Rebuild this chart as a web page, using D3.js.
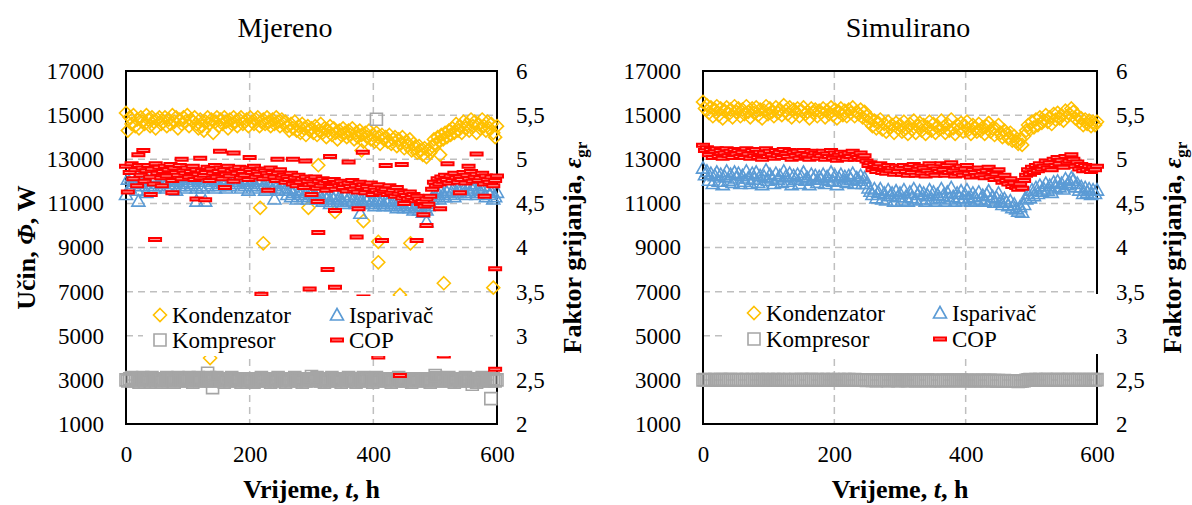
<!DOCTYPE html>
<html>
<head>
<meta charset="utf-8">
<script src="https://cdn.jsdelivr.net/npm/d3@7"></script>
<style>
  body { margin: 0; background: #fff; }
  svg text { font-family: "Liberation Serif", "Times New Roman", serif; }
</style>
</head>
<body>
<svg id="chart" width="1192" height="505"></svg>
<script>
// ---- data ----
const hours = [0,3,6,9,12,15,18,21,24,27,30,33,36,39,42,45,48,51,54,57,
  60,63,66,69,72,75,78,81,84,87,90,93,96,99,102,105,108,111,114,117,
  120,123,126,129,132,135,138,141,144,147,150,153,156,159,162,165,168,171,174,177,
  180,183,186,189,192,195,198,201,204,207,210,213,216,219,222,225,228,231,234,237,
  240,243,246,249,252,255,258,261,264,267,270,273,276,279,282,285,288,291,294,297,
  300,303,306,309,312,315,318,321,324,327,330,333,336,339,342,345,348,351,354,357,
  360,363,366,369,372,375,378,381,384,387,390,393,396,399,402,405,408,411,414,417,
  420,423,426,429,432,435,438,441,444,447,450,453,456,459,462,465,468,471,474,477,
  480,483,486,489,492,495,498,501,504,507,510,513,516,519,522,525,528,531,534,537,
  540,543,546,549,552,555,558,561,564,567,570,573,576,579,582,585,588,591,594,597,
  600];

// Mjereno (measured)
const mjKondenzator = [15100,14300,14900,14600,15000,14500,14800,14400,14900,14700,14600,15000,14800,14500,14900,14700,14400,14800,14900,14600,
  14700,14900,14500,14800,14600,15000,14700,14900,14400,14800,14600,14900,14700,15000,14500,14800,14700,14900,14600,14400,
  14800,14500,14300,14700,14900,14600,14800,14200,14700,14900,14500,14800,14600,14900,14700,14400,14800,14600,14900,14700,
  14500,14800,14900,14600,14700,14800,14500,14900,14700,14600,14800,14900,14500,14700,14800,14600,14900,14700,14500,14800,
  14600,14900,14700,14500,14800,14600,14700,14500,14300,14600,14400,14700,14300,14500,14200,14600,14400,14100,14500,14300,
  14400,14200,14500,14100,14300,14600,14200,14400,14000,14300,14500,14100,14400,14200,13900,14300,14100,14400,14200,14000,
  14300,14100,14400,13900,14200,14000,14300,14100,13800,14200,14000,14300,13900,14100,13800,14200,14000,13700,14100,13900,
  14000,13800,14100,13700,13900,14000,13600,13900,13700,14000,13500,13800,13600,13900,13400,13700,13500,13300,13600,13400,
  13200,13500,13100,13400,13300,13600,13900,13700,14000,13800,14100,13900,14200,14000,14300,14100,14400,14200,14600,14300,
  14500,14200,14700,14400,14600,14300,14800,14500,14700,14200,14600,14400,14800,14500,14300,14700,14400,14600,14200,14000,
  14500];
const mjKondenzatorExtra = [[136,3990],[217,10800],[222,9190],[295,10800],[311,12730],[338,10620],[384,10200],[408,9260],[408,8330],[443,6850],[460,9190],[514,7380],[594,7180],[381,13400],[508,13200]];

const mjIsparivac = [11400,12100,11700,12200,11900,12000,11600,12100,11800,12200,11900,11500,12000,11800,12100,11700,12200,11900,11800,12000,
  11900,12000,11700,12100,11800,12200,11900,11600,12000,11800,12100,11900,11700,12000,12200,11800,11900,12100,11700,12000,
  11800,11700,12000,12200,11800,12000,11900,12100,11700,12000,11800,12100,11900,12000,11700,12100,11800,12000,12200,11900,
  11900,12000,11700,12100,11800,12000,11600,11900,12100,11800,11700,12000,11900,12100,11800,11600,12000,11900,11700,12000,
  11800,11900,11600,12000,11700,11900,11600,11400,11700,11300,11500,11600,11200,11500,11400,11600,11300,11500,11200,11400,
  11500,11300,11400,11200,11500,11300,11100,11400,11200,11300,11000,11300,11200,11400,11100,11300,11200,11000,11300,11100,
  11200,11400,11100,11300,11000,11200,11300,11100,11000,11200,11100,11300,11000,11200,10900,11100,11200,11000,11100,10900,
  11100,11000,11200,10900,11100,11000,10800,11100,10900,11000,10800,11000,10900,10800,11000,10700,10900,10800,10700,10900,
  10600,10800,10700,10900,11000,11200,11400,11300,11500,11200,11600,11400,11300,11500,11700,11400,11600,11300,11500,11700,
  11500,11800,11600,11400,11700,11500,11900,11600,11800,11400,11700,11500,11600,11800,11300,11600,11400,11500,11200,11300,
  11500];
const mjIsparivacExtra = [[20,11100],[114,11100],[128,11100],[240,11200],[379,10550],[486,10170]];

const mjKompresor = [3000,2950,3050,3100,2950,3000,3050,2900,3000,3100,2950,3050,3000,2900,3100,3000,2950,3050,3000,2900,
  3050,3000,3100,2950,3000,3050,2900,3000,3100,3000,2950,3050,3000,2950,3100,3000,2900,3050,3000,3100,
  2950,3000,3050,2950,3000,3100,2950,3050,3000,3100,2950,3000,3050,2900,3000,3050,2950,3100,3000,2950,
  3050,3000,2900,3050,3000,2950,3000,3050,2950,2900,3050,3000,2950,3100,3000,2950,3050,3000,2900,3050,
  2950,3000,3100,2950,3000,3050,2900,3000,3050,2950,3000,3100,2950,3050,3000,2900,3050,2950,3000,3050,
  3000,3050,2950,3100,3000,2950,3050,2900,3050,3000,2950,3100,3000,2950,3050,3000,2900,3000,3050,2950,
  3100,3000,3050,2950,2900,3050,3000,2950,3100,3050,2950,3000,3050,2900,3000,3100,2950,3050,3000,3050,
  2950,3050,3000,2900,3050,3000,2950,3100,3000,2950,3050,2950,3000,3050,2900,3000,3050,3000,2950,3000,
  3000,2950,3050,3000,2900,3050,3000,3100,2950,3000,3050,2950,3000,3050,3100,2950,3000,2900,3050,3000,
  2950,3050,3000,3100,2950,3000,3050,2950,3000,2900,3050,3000,3100,2950,3000,3050,2950,3000,3050,2950,
  3000];
const mjKompresorExtra = [[132,3300],[140,2650],[300,3150],[405,14810],[500,3200],[560,2800],[590,2150]];

const mjCop = [4.92,4.63,4.85,4.95,4.78,4.88,4.70,4.93,4.82,4.90,4.75,4.87,4.93,4.80,4.89,4.72,4.95,4.84,4.91,4.79,
  4.86,4.92,4.81,4.88,4.94,4.76,4.90,4.85,4.82,4.93,4.78,4.87,4.84,4.90,4.80,4.86,4.92,4.77,4.88,4.83,
  4.79,4.87,4.82,4.85,4.91,4.76,4.89,4.84,4.93,4.80,4.86,4.90,4.78,4.88,4.83,4.92,4.81,4.87,4.75,4.89,
  4.84,4.91,4.79,4.86,4.82,4.90,4.77,4.88,4.85,4.92,4.80,4.86,4.83,4.89,4.78,4.87,4.84,4.81,4.90,4.85,
  4.80,4.76,4.84,4.88,4.79,4.82,4.74,4.80,4.77,4.84,4.72,4.79,4.70,4.82,4.74,4.78,4.68,4.80,4.75,4.71,
  4.78,4.72,4.80,4.67,4.75,4.70,4.78,4.73,4.65,4.76,4.71,4.69,4.77,4.66,4.73,4.70,4.75,4.68,4.72,4.64,
  4.73,4.69,4.76,4.66,4.70,4.63,4.74,4.68,4.71,4.62,4.69,4.66,4.73,4.60,4.68,4.65,4.71,4.62,4.67,4.64,
  4.66,4.60,4.70,4.62,4.65,4.58,4.68,4.61,4.64,4.56,4.62,4.59,4.55,4.63,4.57,4.60,4.53,4.58,4.55,4.50,
  4.52,4.47,4.55,4.49,4.58,4.66,4.74,4.70,4.78,4.72,4.80,4.75,4.82,4.77,4.73,4.81,4.76,4.84,4.79,4.74,
  4.80,4.77,4.85,4.73,4.82,4.78,4.86,4.75,4.80,4.83,4.76,4.79,4.84,4.72,4.81,4.77,4.74,4.80,4.70,4.76,
  4.81];
const mjCopExtra = [[20,5.05],[28,5.10],[40,4.60],[47,4.09],[58,4.70],[75,4.62],[90,5.00],[114,4.55],[120,5.01],[128,4.54],[152,5.09],[160,4.68],[174,5.07],[200,5.02],[219,3.47],[230,4.65],[245,5.00],[270,5.00],[290,4.98],[297,3.53],[300,4.60],[310,4.52],[311,4.17],[326,3.75],[330,5.03],[338,3.55],[338,4.42],[360,4.97],[373,4.12],[376,4.44],[383,5.08],[384,3.44],[408,2.76],[410,3.40],[414,4.08],[420,4.93],[443,2.55],[446,4.94],[450,4.50],[470,4.08],[481,4.37],[486,4.25],[508,4.44],[514,2.77],[520,4.95],[540,4.62],[554,4.92],[567,5.06],[580,4.58],[597,3.76],[597,2.62]];

// Simulirano (simulated)
const simKondenzator = [15600,15300,15450,15100,15350,14950,15250,15400,15000,15300,14850,15200,15350,15050,15250,14900,15400,15150,15300,14950,
  15250,15050,15400,15150,14900,15300,15100,15350,15000,15250,14850,15200,15400,15050,15300,15150,14950,15350,15100,15250,
  15000,15450,15200,15050,15350,14900,15250,15100,15300,14950,15200,15350,15050,15150,14850,15300,15100,15250,14950,15200,
  15100,15300,14900,15200,15050,15350,15000,15250,14850,15150,15300,15000,15200,14950,15250,15100,15350,14950,15150,15050,
  15250,14900,15150,14950,14700,14850,14500,14750,14400,14650,14800,14350,14600,14250,14700,14450,14550,14200,14650,14400,
  14550,14250,14700,14400,14150,14600,14350,14750,14200,14500,14650,14300,14550,14150,14450,14700,14300,14600,14200,14500,
  14350,14750,14450,14200,14600,14300,14800,14400,14150,14550,14350,14650,14250,14500,14700,14350,14150,14550,14400,14250,
  14600,14300,14450,14150,14500,14650,14250,14400,14100,14350,14550,14200,14000,14300,14150,13950,14200,13850,14050,13800,
  13700,13900,13650,14050,14300,14550,14350,14700,14450,14800,14550,14900,14650,14750,15000,14700,14900,14600,15050,14800,
  15100,14850,15000,14750,15200,14950,15050,15300,15150,14850,15000,14700,14850,14550,14800,14600,14750,14500,14700,14550,
  14700];
const simIsparivac = [12600,12300,12450,12050,12350,11900,12250,12400,12000,12300,11850,12200,12450,12050,12300,11950,12400,12150,12350,11900,
  12250,12000,12450,12150,11900,12350,12100,12400,11950,12250,11850,12200,12500,12050,12300,12150,11900,12350,12100,12250,
  11950,12450,12200,12000,12350,11850,12250,12100,12300,11900,12200,12400,12050,12150,11850,12300,12100,12250,11950,12200,
  12100,12300,11900,12200,12050,12400,12000,12250,11850,12150,12300,12000,12200,11950,12250,12100,12350,11900,12150,12050,
  12250,11900,12150,11900,11700,11550,11400,11650,11250,11500,11650,11200,11450,11150,11600,11350,11450,11100,11550,11300,
  11450,11150,11600,11300,11100,11500,11250,11650,11150,11400,11550,11200,11450,11100,11350,11600,11200,11500,11100,11400,
  11250,11650,11350,11100,11500,11200,11700,11300,11100,11450,11250,11550,11150,11400,11600,11250,11100,11450,11300,11150,
  11500,11200,11350,11100,11400,11550,11150,11300,11050,11250,11450,11100,10950,11200,11050,10900,11100,10800,10950,10750,
  10650,10850,10600,10950,11200,11450,11250,11600,11350,11700,11450,11800,11550,11650,11900,11600,11800,11500,11950,11700,
  12000,11750,11900,11650,12100,11850,11950,12150,12050,11750,11900,11600,11750,11450,11700,11500,11650,11400,11600,11450,
  11600];
const simKompresor = [3000,3010,2990,3020,3000,2980,3010,3000,2990,3020,3010,3000,2990,3010,3020,3000,2990,3010,3000,2980,
  3010,3000,3020,3000,2990,3010,3000,2990,3020,3000,3010,2990,3000,3010,3000,2990,3020,3000,3010,2990,
  3000,3020,3000,2990,3010,3000,2980,3010,3000,2990,3020,3010,3000,2990,3010,3020,3000,2990,3010,3000,
  2990,3010,3000,3020,3000,2990,3010,3000,2980,3010,3000,2990,3020,3000,3010,2990,3000,3010,3000,2990,
  3000,2990,2980,2970,2990,2980,2970,2990,2960,2980,2970,2990,2980,2970,2960,2980,2990,2970,2980,2960,
  2970,2990,2980,2970,2960,2980,2970,2990,2960,2980,2970,2960,2980,2970,2990,2960,2980,2970,2960,2980,
  2970,2960,2980,2970,2990,2960,2980,2970,2960,2980,2970,2990,2960,2980,2970,2960,2980,2970,2960,2970,
  2980,2960,2970,2980,2960,2970,2980,2960,2970,2950,2970,2960,2950,2970,2960,2950,2960,2940,2950,2940,
  2930,2940,2950,2960,2980,3000,3010,2990,3000,3020,3000,3010,2990,3000,3020,3010,3000,2990,3010,3000,
  3020,3000,3010,2990,3000,3020,3010,3000,2990,3010,3000,3020,3000,3010,2990,3000,3010,3000,3020,3000,
  3010];
const simCop = [5.16,5.10,5.13,5.05,5.11,5.02,5.09,5.12,5.03,5.10,5.01,5.07,5.12,5.04,5.09,5.02,5.11,5.06,5.10,5.03,
  5.08,5.02,5.12,5.06,5.01,5.10,5.04,5.11,5.02,5.08,5.00,5.07,5.12,5.03,5.09,5.05,5.01,5.10,5.04,5.08,
  5.02,5.11,5.06,5.03,5.10,5.00,5.08,5.04,5.09,5.01,5.06,5.10,5.03,5.05,5.00,5.09,5.04,5.07,5.01,5.06,
  5.04,5.09,5.00,5.06,5.03,5.10,5.01,5.07,4.99,5.05,5.08,5.01,5.06,5.00,5.07,5.03,5.09,5.00,5.05,5.02,
  5.07,5.00,5.04,4.98,4.93,4.96,4.88,4.94,4.86,4.92,4.95,4.85,4.91,4.84,4.93,4.87,4.90,4.83,4.92,4.86,
  4.90,4.83,4.93,4.86,4.82,4.91,4.85,4.94,4.82,4.89,4.92,4.84,4.90,4.81,4.87,4.95,4.84,4.92,4.82,4.89,
  4.86,4.95,4.88,4.82,4.93,4.85,4.96,4.87,4.81,4.90,4.84,4.92,4.82,4.89,4.93,4.84,4.80,4.88,4.85,4.81,
  4.90,4.82,4.86,4.79,4.87,4.91,4.80,4.85,4.77,4.83,4.88,4.78,4.74,4.82,4.76,4.72,4.78,4.69,4.73,4.68,
  4.66,4.72,4.67,4.76,4.82,4.88,4.83,4.91,4.85,4.93,4.87,4.95,4.89,4.92,4.98,4.90,4.96,4.88,5.00,4.93,
  5.02,4.95,4.99,4.91,5.03,4.96,4.98,5.05,5.00,4.92,4.97,4.89,4.94,4.87,4.93,4.88,4.92,4.86,4.91,4.88,
  4.92];

const seriesNames = ['Kondenzator', 'Isparivač', 'Kompresor', 'COP'];
const powerTicks = [1000,3000,5000,7000,9000,11000,13000,15000,17000];
const copTicks = [2,2.5,3,3.5,4,4.5,5,5.5,6];
const timeTicks = [0,200,400,600];

// ---- drawing ----
const svg = d3.select('#chart');
const plotTop = 71, plotBottom = 424;
const colors = ['#FFC000', '#5B9BD5', '#A5A5A5', '#FF0000'];
const fills = ['none', 'none', 'none', '#FF9C9C'];
const shapes = {
  diamond: 'M0,-6.5L6.5,0L0,6.5L-6.5,0Z',
  triangle: 'M0,-6.5L6.5,5L-6.5,5Z',
  square: 'M-6,-6H6V6H-6Z',
  dash: 'M-6,-1.5H6V1.5H-6Z'
};
const shapeOf = ['diamond', 'triangle', 'square', 'dash'];
const strokeW = [1.6, 1.6, 1.6, 2];

function pairs(vals, extra) {
  const out = hours.map((t, i) => [t, vals[i]]).filter(d => d[1] != null);
  return extra ? out.concat(extra) : out;
}

const panels = [
  { title: 'Mjereno', titleX: 285, left: 126, right: 497, leftTitle: true,
    series: [pairs(mjKondenzator, mjKondenzatorExtra), pairs(mjIsparivac, mjIsparivacExtra),
             pairs(mjKompresor, mjKompresorExtra), pairs(mjCop, mjCopExtra)],
    legend: { x0: 143, x1: 490, y0: 296, y1: 356, col: [160, 337], row: [315, 340] } },
  { title: 'Simulirano', titleX: 908, left: 703, right: 1097, leftTitle: false,
    series: [pairs(simKondenzator), pairs(simIsparivac), pairs(simKompresor), pairs(simCop)],
    legend: { x0: 722, x1: 1100, y0: 294, y1: 354, col: [754, 940], row: [313, 339] } }
];

panels.forEach(p => {
  const x = d3.scaleLinear().domain([0, 600]).range([p.left, p.right]);
  const yP = d3.scaleLinear().domain([1000, 17000]).range([plotBottom, plotTop]);
  const yC = d3.scaleLinear().domain([2, 6]).range([plotBottom, plotTop]);
  const g = svg.append('g');

  // grid
  g.append('g').selectAll('line')
    .data(powerTicks.slice(1, -1))
    .enter().append('line')
    .attr('x1', p.left).attr('x2', p.right)
    .attr('y1', d => yP(d)).attr('y2', d => yP(d))
    .attr('stroke', '#BFBFBF').attr('stroke-width', 1.5).attr('stroke-dasharray', '7,5');
  g.append('g').selectAll('line')
    .data(timeTicks.slice(1, -1))
    .enter().append('line')
    .attr('x1', d => x(d)).attr('x2', d => x(d))
    .attr('y1', plotTop).attr('y2', plotBottom)
    .attr('stroke', '#BFBFBF').attr('stroke-width', 1.5).attr('stroke-dasharray', '7,5');

  // border
  g.append('rect')
    .attr('x', p.left).attr('y', plotTop)
    .attr('width', p.right - p.left).attr('height', plotBottom - plotTop)
    .attr('fill', 'none').attr('stroke', '#000').attr('stroke-width', 2);

  // axes
  const axL = g.append('g').attr('transform', `translate(${p.left},0)`)
    .call(d3.axisLeft(yP).tickValues(powerTicks).tickSize(0).tickPadding(22)
      .tickFormat(d => String(d)));
  const axR = g.append('g').attr('transform', `translate(${p.right},0)`)
    .call(d3.axisRight(yC).tickValues(copTicks).tickSize(0).tickPadding(19)
      .tickFormat(d => String(d).replace('.', ',')));
  const axB = g.append('g').attr('transform', `translate(0,${plotBottom})`)
    .call(d3.axisBottom(x).tickValues(timeTicks).tickSize(0).tickPadding(22)
      .tickFormat(d => String(d)));
  [axL, axR, axB].forEach(a => {
    a.select('.domain').remove();
    a.selectAll('text').attr('font-size', 23).attr('fill', '#000');
  });

  // series (primary axis first, COP on secondary axis on top)
  p.series.forEach((data, si) => {
    const yy = si === 3 ? yC : yP;
    g.append('g').selectAll('path')
      .data(data)
      .enter().append('path')
      .attr('d', shapes[shapeOf[si]])
      .attr('transform', d => `translate(${x(d[0])},${yy(d[1])})`)
      .attr('fill', fills[si])
      .attr('stroke', colors[si])
      .attr('stroke-width', strokeW[si]);
  });

  // legend
  const L = p.legend;
  g.append('rect').attr('x', L.x0).attr('y', L.y0)
    .attr('width', L.x1 - L.x0).attr('height', L.y1 - L.y0).attr('fill', '#fff');
  seriesNames.forEach((name, i) => {
    const cx = L.col[i % 2], cy = L.row[Math.floor(i / 2)];
    g.append('path').attr('d', shapes[shapeOf[i]])
      .attr('transform', `translate(${cx},${cy})`)
      .attr('fill', fills[i]).attr('stroke', colors[i]).attr('stroke-width', strokeW[i]);
    g.append('text').attr('x', cx + 12).attr('y', cy + 8)
      .attr('font-size', 23).text(name);
  });

  // titles
  g.append('text').attr('x', p.titleX).attr('y', 37)
    .attr('text-anchor', 'middle').attr('font-size', 28).text(p.title);

  const xt = g.append('text').attr('x', (p.left + p.right) / 2).attr('y', 498)
    .attr('text-anchor', 'middle').attr('font-size', 26).attr('font-weight', 'bold');
  xt.append('tspan').text('Vrijeme, ');
  xt.append('tspan').attr('font-style', 'italic').text('t');
  xt.append('tspan').text(', h');

  if (p.leftTitle) {
    const yt = g.append('text')
      .attr('transform', `translate(35,${(plotTop + plotBottom) / 2}) rotate(-90)`)
      .attr('text-anchor', 'middle').attr('font-size', 26).attr('font-weight', 'bold');
    yt.append('tspan').text('Učin, ');
    yt.append('tspan').attr('font-style', 'italic').text('Φ');
    yt.append('tspan').text(', W');
  }

  const rt = g.append('text')
    .attr('transform', `translate(${p.right + 84},${(plotTop + plotBottom) / 2}) rotate(-90)`)
    .attr('text-anchor', 'middle').attr('font-size', 26).attr('font-weight', 'bold');
  rt.append('tspan').text('Faktor grijanja, ');
  rt.append('tspan').attr('font-style', 'italic').text('ε');
  rt.append('tspan').attr('font-size', 17).attr('dy', 6).text('gr');
});
</script>
</body>
</html>
